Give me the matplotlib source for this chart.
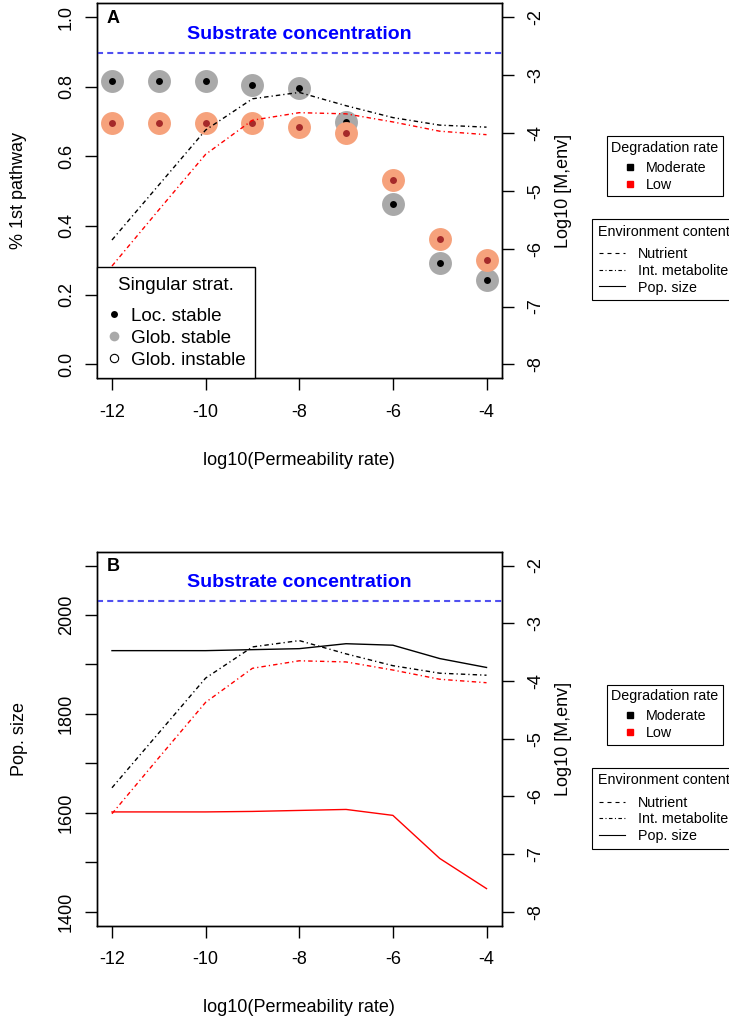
import numpy as np
import matplotlib
matplotlib.use("Agg")
import matplotlib.pyplot as plt
from matplotlib.lines import Line2D

plt.rcParams['font.family'] = ['Liberation Sans', 'DejaVu Sans']

# data
perm = [-12, -11, -10, -9, -8, -7, -6, -5, -4]
mod_pct = [0.817, 0.817, 0.817, 0.806, 0.796, 0.699, 0.463, 0.292, 0.242]
low_pct = [0.694, 0.694, 0.694, 0.694, 0.685, 0.666, 0.532, 0.362, 0.301]
mod_met = [-5.85, -4.90, -3.95, -3.41, -3.30, -3.53, -3.735, -3.865, -3.90]
low_met = [-6.30, -5.33, -4.37, -3.78, -3.65, -3.67, -3.81, -3.97, -4.03]
mod_pop = [1928, 1928, 1928, 1930, 1932, 1942, 1939, 1912, 1894]
low_pop = [1602, 1602, 1602, 1603, 1605, 1607, 1595, 1508, 1447]
substrate = -2.62

x_ticks = [-12, -10, -8, -6, -4]
pct_ticks = [0.0, 0.2, 0.4, 0.6, 0.8, 1.0]
pop_ticks = [1400, 1500, 1600, 1700, 1800, 1900, 2000, 2100]
pop_labels = ['1400', '', '1600', '', '1800', '', '2000', '']
met_ticks = [-8, -7, -6, -5, -4, -3, -2]

W, H = 729, 1023
fig = plt.figure(figsize=(W / 100, H / 100), dpi=100)

def rect(l, t, r, b):
    return [l / W, 1 - b / H, (r - l) / W, (b - t) / H]

DASHDOT = (3.2, 2.2, 0.9, 2.2)
DASHED = (3.6, 3.6)
FS = 13
LFS = 10.3  # right-hand legends

def style_axes(ax):
    for s in ax.spines.values():
        s.set_linewidth(1.0)
    ax.tick_params(length=8.5, width=1.0, labelsize=FS, direction='out')

def extend(lo, hi):
    d = (hi - lo) * 0.04
    return lo - d, hi + d

def panel(top, bottom, letter, ylab):
    ax = fig.add_axes(rect(97, top, 501.5, bottom))
    style_axes(ax)
    ax.set_xlim(*extend(-12, -4))
    ax.set_xticks(x_ticks)
    ax.set_xticklabels([str(v) for v in x_ticks])
    ax.tick_params(axis='x', pad=10)
    ax.tick_params(axis='y', pad=7.5)

    ax2 = ax.twinx()
    style_axes(ax2)
    ax2.set_ylim(*extend(-8, -2))
    ax2.set_yticks(met_ticks)
    ax2.set_yticklabels([str(v) for v in met_ticks], rotation=90, va='center')
    ax2.tick_params(axis='y', pad=10)
    ax2.axhline(substrate, color='#5050F0', lw=1.5, dashes=(2.9, 2.0))
    ax2.plot(perm, mod_met, color='black', lw=1.0, dashes=DASHDOT)
    ax2.plot(perm, low_met, color='red', lw=1.0, dashes=DASHDOT)

    cy = (top + bottom) / 2
    fig.text(19 / W, 1 - cy / H, ylab, rotation=90, ha='center', va='center', fontsize=FS)
    fig.text(563 / W, 1 - cy / H, 'Log10 [M,env]', rotation=90, ha='center', va='center', fontsize=FS)
    fig.text(299 / W, 1 - (bottom + 82) / H, 'log10(Permeability rate)', ha='center', va='center', fontsize=FS)
    fig.text(107 / W, 1 - (top + 15) / H, letter, ha='left', va='center', fontsize=13, fontweight='bold')
    fig.text(299 / W, 1 - (top + 31) / H, 'Substrate concentration', ha='center', va='center',
             fontsize=14, fontweight='bold', color='blue')

    # right side legends
    deg = [Line2D([], [], ls='none', marker='s', ms=4.5, color='black', label='Moderate'),
           Line2D([], [], ls='none', marker='s', ms=4.5, color='red', label='Low')]
    l1 = fig.legend(handles=deg, title='Degradation rate', loc='upper left',
                    bbox_to_anchor=(607 / W, 1 - (top + 133) / H), borderaxespad=0,
                    fontsize=LFS, title_fontsize=LFS, fancybox=False, edgecolor='black',
                    framealpha=1, handlelength=1.0, handletextpad=0.6, labelspacing=0.22,
                    borderpad=0.3)
    l1.get_frame().set_linewidth(0.8)
    l1._legend_box.sep = 4.5
    env = [Line2D([], [], color='black', lw=0.8, dashes=DASHED, label='Nutrient'),
           Line2D([], [], color='black', lw=0.8, dashes=DASHDOT, label='Int. metabolite'),
           Line2D([], [], color='black', lw=0.8, label='Pop. size')]
    l2 = fig.legend(handles=env, title='Environment content', loc='upper left',
                    bbox_to_anchor=(592 / W, 1 - (top + 216) / H), borderaxespad=0,
                    fontsize=LFS, title_fontsize=LFS, fancybox=False, edgecolor='black',
                    framealpha=1, handlelength=1.85, handletextpad=0.9, labelspacing=0.18,
                    borderpad=0.4)
    l2.get_frame().set_linewidth(0.8)
    l2._legend_box.sep = 6
    return ax, ax2

# Panel A
axA, axA2 = panel(3.3, 378.3, 'A', '% 1st pathway')
axA.set_ylim(*extend(0, 1))
axA.set_yticks(pct_ticks)
axA.set_yticklabels([f'{v:.1f}' for v in pct_ticks], rotation=90, va='center')
axA.plot(perm, mod_pct, ls='none', marker='o', ms=16.5, mec='none', mfc='#A9A9A9')
axA.plot(perm, mod_pct, ls='none', marker='o', ms=5, mec='none', mfc='black')
axA.plot(perm, low_pct, ls='none', marker='o', ms=16.5, mec='none', mfc='#F6A27C')
axA.plot(perm, low_pct, ls='none', marker='o', ms=5, mec='none', mfc='#A52A2A')

sing = [Line2D([], [], ls='none', marker='o', ms=5, mec='none', mfc='black', label='Loc. stable'),
        Line2D([], [], ls='none', marker='o', ms=7, mec='none', mfc='#A9A9A9', label='Glob. stable'),
        Line2D([], [], ls='none', marker='o', ms=6, mec='black', mfc='white', mew=0.8, label='Glob. instable')]
leg = axA2.legend(handles=sing, title='Singular strat.', loc='lower left', bbox_to_anchor=(0, 0),
                  borderaxespad=0, fontsize=13.6, title_fontsize=13.6, fancybox=False, edgecolor='black',
                  framealpha=1, handlelength=0.8, handletextpad=0.5, labelspacing=0.25,
                  borderpad=0.5)
leg.get_frame().set_linewidth(1.0)
leg._legend_box.sep = 10

# Panel B
axB, axB2 = panel(551.7, 925.7, 'B', 'Pop. size')
axB.set_ylim(*extend(1400, 2100))
axB.set_yticks(pop_ticks)
axB.set_yticklabels(pop_labels, rotation=90, va='center')
axB.plot(perm, mod_pop, color='black', lw=1.0)
axB.plot(perm, low_pop, color='red', lw=1.0)

fig.savefig('out.png', dpi=100)
